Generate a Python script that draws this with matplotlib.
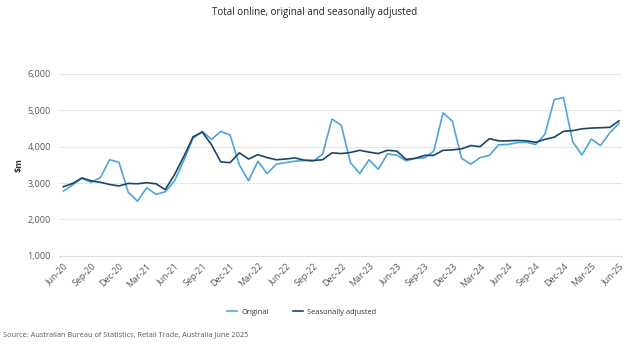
import matplotlib
matplotlib.use('Agg')
from matplotlib import pyplot as plt

plt.rcParams['font.family'] = ['Open Sans', 'DejaVu Sans']

# monthly, Jun-20 .. Jun-25
months = ['Jun-20', 'Jul-20', 'Aug-20', 'Sep-20', 'Oct-20', 'Nov-20', 'Dec-20',
          'Jan-21', 'Feb-21', 'Mar-21', 'Apr-21', 'May-21', 'Jun-21', 'Jul-21',
          'Aug-21', 'Sep-21', 'Oct-21', 'Nov-21', 'Dec-21', 'Jan-22', 'Feb-22',
          'Mar-22', 'Apr-22', 'May-22', 'Jun-22', 'Jul-22', 'Aug-22', 'Sep-22',
          'Oct-22', 'Nov-22', 'Dec-22', 'Jan-23', 'Feb-23', 'Mar-23', 'Apr-23',
          'May-23', 'Jun-23', 'Jul-23', 'Aug-23', 'Sep-23', 'Oct-23', 'Nov-23',
          'Dec-23', 'Jan-24', 'Feb-24', 'Mar-24', 'Apr-24', 'May-24', 'Jun-24',
          'Jul-24', 'Aug-24', 'Sep-24', 'Oct-24', 'Nov-24', 'Dec-24', 'Jan-25',
          'Feb-25', 'Mar-25', 'Apr-25', 'May-25', 'Jun-25']

original = [2780, 2950, 3130, 3020, 3150, 3640, 3570,
            2750, 2500, 2870, 2690, 2760, 3060, 3620,
            4230, 4420, 4200, 4420, 4320, 3500, 3060,
            3600, 3260, 3520, 3560, 3600, 3620, 3600,
            3800, 4760, 4590, 3560, 3260, 3640, 3380,
            3800, 3770, 3610, 3680, 3690, 3880, 4930,
            4700, 3680, 3520, 3700, 3760, 4050, 4060,
            4110, 4120, 4060, 4340, 5290, 5350, 4130,
            3770, 4210, 4030, 4380, 4640]

seas_adj = [2900, 2990, 3140, 3060, 3020, 2960, 2920,
            2990, 2980, 3010, 2980, 2820, 3230, 3730,
            4270, 4400, 4050, 3580, 3560, 3830, 3660,
            3780, 3700, 3640, 3660, 3690, 3630, 3620,
            3640, 3830, 3810, 3840, 3900, 3850, 3810,
            3900, 3880, 3650, 3680, 3760, 3760, 3900,
            3910, 3940, 4030, 4000, 4220, 4160, 4160,
            4170, 4160, 4120, 4200, 4260, 4420, 4440,
            4490, 4510, 4520, 4530, 4710]

yticks = [1000, 2000, 3000, 4000, 5000, 6000]

fig = plt.figure(figsize=(6.3, 3.5), dpi=100)
ax = fig.add_axes([0.094, 0.269, 0.893, 0.52])

x = list(range(len(months)))
ax.plot(x, original, color='#4ea5d6', lw=1.2, label='Original')
ax.plot(x, seas_adj, color='#1b4669', lw=1.2, label='Seasonally adjusted')

ax.set_xlim(-0.45, 60.3)
ax.set_ylim(1000, 6000)
ax.set_yticks(yticks)
ax.set_yticklabels(['{:,}'.format(v) for v in yticks])
ax.set_xticks(x[::3])
ax.set_xticklabels(months[::3], rotation=45, ha='right', rotation_mode='anchor')
ax.tick_params(axis='both', length=0, labelsize=6.5, labelcolor='#595959')
ax.tick_params(axis='y', pad=6)
ax.tick_params(axis='x', pad=4)
ax.grid(axis='y', color='#e6e6e6', lw=0.8)
ax.set_axisbelow(True)
for s in ['top', 'right', 'left']:
    ax.spines[s].set_visible(False)
ax.spines['bottom'].set_color('#d9dde8')

ax.set_ylabel('$m', fontsize=6.5, fontweight='bold', color='#333333', labelpad=3)

fig.text(0.5, 0.963, 'Total online, original and seasonally adjusted',
         ha='center', va='center', fontsize=7, color='#222222')
fig.legend(loc='center', bbox_to_anchor=(0.479, 0.108), ncol=2, frameon=False,
           fontsize=5.4, handlelength=1.3, handletextpad=0.6, columnspacing=3.2,
           labelcolor='#333333')
fig.text(0.004, 0.043, 'Source: Australian Bureau of Statistics, Retail Trade, Australia June 2025',
         ha='left', va='center', fontsize=5.3, color='#595959')

fig.savefig('out.png', dpi=100)
